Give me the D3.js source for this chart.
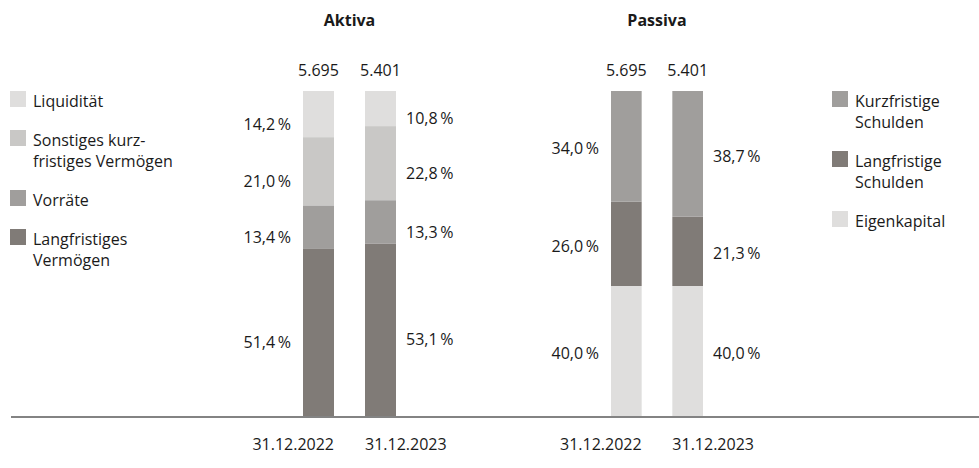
<!DOCTYPE html>
<meta charset="utf-8">
<script src="https://d3js.org/d3.v7.min.js"></script>
<style>
  body { margin: 0; background: #fff; }
  text { font-family: "Open Sans", sans-serif; fill: #1a1a1a; }
</style>
<div id="chart"></div>
<script>

// data (percent shares, bottom -> top of each stack)
const dates = ["31.12.2022", "31.12.2023"];
const totals = [5695, 5401];

const aktivaSeries = ["Langfristiges Vermögen", "Vorräte", "Sonstiges kurzfristiges Vermögen", "Liquidität"];
const aktiva2022 = [51.4, 13.4, 21.0, 14.2];
const aktiva2023 = [53.1, 13.3, 22.8, 10.8];

const passivaSeries = ["Eigenkapital", "Langfristige Schulden", "Kurzfristige Schulden"];
const passiva2022 = [40.0, 26.0, 34.0];
const passiva2023 = [40.0, 21.3, 38.7];

// legend labels, top -> bottom, with their line breaks
const aktivaLegend = [["Liquidität"], ["Sonstiges kurz-", "fristiges Vermögen"], ["Vorräte"], ["Langfristiges", "Vermögen"]];
const passivaLegend = [["Kurzfristige", "Schulden"], ["Langfristige", "Schulden"], ["Eigenkapital"]];

const width = 979, height = 468;
const baseY = 416, topY = 91;

const de = d3.formatLocale({decimal: ",", thousands: ".", grouping: [3], currency: ["", " €"]});
const fmtTotal = de.format(",.0f");
const fmtPct = v => de.format(".1f")(v) + "\u2009%";

const colors = {
  "Langfristiges Vermögen": "#807b77",
  "Vorräte": "#a09e9c",
  "Sonstiges kurzfristiges Vermögen": "#c9c8c6",
  "Liquidität": "#dfdedd",
  "Eigenkapital": "#dfdedd",
  "Langfristige Schulden": "#807b77",
  "Kurzfristige Schulden": "#a09e9c"
};

const svg = d3.select("#chart").append("svg")
  .attr("width", width)
  .attr("height", height);

const y = d3.scaleLinear().domain([0, 100]).range([baseY, topY]);

function panel(title, series, rows, range, labelShift) {
  const x = d3.scaleBand().domain(dates).range(range).paddingInner(0.5);
  const g = svg.append("g");

  // build the stacks
  const table = dates.map((d, i) => {
    const o = {date: d};
    series.forEach((s, j) => o[s] = rows[i][j]);
    return o;
  });
  const stacked = d3.stack().keys(series)(table);

  g.selectAll("g.layer")
    .data(stacked)
    .join("g")
      .attr("class", "layer")
      .attr("fill", d => colors[d.key])
    .selectAll("rect")
    .data(d => d)
    .join("rect")
      .attr("x", d => x(d.data.date))
      .attr("y", d => y(d[1]))
      .attr("width", x.bandwidth())
      .attr("height", d => y(d[0]) - y(d[1]));

  // percent labels: left of first bar, right of second bar
  stacked.forEach(layer => {
    layer.forEach((d, i) => {
      const first = i === 0;
      g.append("text")
        .attr("x", first ? x(d.data.date) - 12 : x(d.data.date) + x.bandwidth() + 10)
        .attr("y", (y(d[0]) + y(d[1])) / 2 + labelShift)
        .attr("dy", "0.36em")
        .attr("text-anchor", first ? "end" : "start")
        .style("font-size", "16px")
        .text(fmtPct(d[1] - d[0]));
    });
  });

  // totals above the bars
  g.selectAll("text.total")
    .data(dates)
    .join("text")
      .attr("class", "total")
      .attr("x", d => x(d) + x.bandwidth() / 2)
      .attr("y", 76)
      .attr("text-anchor", "middle")
      .style("font-size", "16px")
      .text((d, i) => fmtTotal(totals[i]));

  // date labels under the baseline
  g.selectAll("text.date")
    .data(dates)
    .join("text")
      .attr("class", "date")
      .attr("x", (d, i) => i === 0 ? x(d) + x.bandwidth() : x(d))
      .attr("y", 450)
      .attr("text-anchor", (d, i) => i === 0 ? "end" : "start")
      .style("font-size", "16px")
      .text(d => d);

  // title
  g.append("text")
    .attr("x", (range[0] + range[1]) / 2)
    .attr("y", 26)
    .attr("text-anchor", "middle")
    .style("font-size", "16px")
    .style("font-weight", "bold")
    .text(title);
}

panel("Aktiva", aktivaSeries, [aktiva2022, aktiva2023], [303, 396], 10);
panel("Passiva", passivaSeries, [passiva2022, passiva2023], [611, 703], 2);

// baseline
svg.append("line")
  .attr("x1", 11).attr("x2", width)
  .attr("y1", baseY + 1).attr("y2", baseY + 1)
  .attr("stroke", "#5a5a5a")
  .attr("stroke-width", 1.5);

function legend(items, keys, x0) {
  let top = 91;
  items.forEach((lines, i) => {
    const g = svg.append("g").attr("transform", `translate(${x0},${top})`);
    g.append("rect")
      .attr("width", 16).attr("height", 16)
      .attr("fill", colors[keys[i]]);
    g.append("text")
      .attr("x", 23)
      .style("font-size", "16px")
      .selectAll("tspan")
      .data(lines)
      .join("tspan")
        .attr("x", 23)
        .attr("y", (d, j) => 15.5 + j * 21)
        .text(d => d);
    top += 18 + 21 * lines.length;
  });
}

legend(aktivaLegend, aktivaSeries.slice().reverse(), 10);
legend(passivaLegend, passivaSeries.slice().reverse(), 832);

</script>
